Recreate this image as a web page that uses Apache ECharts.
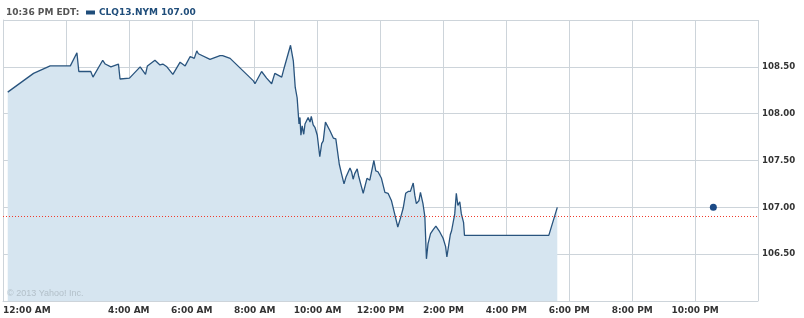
<!DOCTYPE html>
<html><head><meta charset="utf-8">
<script src="https://cdn.jsdelivr.net/npm/echarts@6/dist/echarts.min.js"></script>
<style>html,body{margin:0;padding:0;background:#fff}#c{width:804px;height:318px}</style>
</head><body><div id="c"></div>
<script>
// Time of day in decimal hours
var hours = [0.15,0.21,0.97,1.02,1.50,2.14,2.35,2.41,2.79,2.86,3.17,3.25,3.43,3.67,3.72,4.02,4.36,4.53,4.59,4.65,4.83,4.99,5.08,5.21,5.40,5.63,5.79,5.95,6.08,6.16,6.21,6.58,6.90,6.98,7.22,7.96,8.01,8.22,8.38,8.54,8.64,8.86,8.93,8.99,9.14,9.23,9.29,9.35,9.41,9.44,9.47,9.51,9.56,9.60,9.65,9.70,9.76,9.80,9.86,9.92,9.99,10.07,10.13,10.18,10.25,10.39,10.50,10.58,10.69,10.76,10.84,10.90,11.03,11.08,11.13,11.18,11.26,11.30,11.37,11.45,11.57,11.66,11.71,11.79,11.85,11.92,12.03,12.14,12.24,12.35,12.45,12.55,12.63,12.72,12.80,12.88,12.95,13.04,13.09,13.14,13.22,13.27,13.35,13.41,13.46,13.51,13.59,13.67,13.76,13.88,13.99,14.07,14.11,14.16,14.22,14.26,14.30,14.36,14.41,14.46,14.52,14.57,14.64,14.67,17.35,17.62];
var prices = [108.23,108.22,108.43,108.41,108.51,108.51,108.65,108.45,108.45,108.39,108.57,108.53,108.50,108.53,108.37,108.38,108.50,108.42,108.51,108.49,108.57,108.52,108.53,108.50,108.42,108.55,108.51,108.61,108.59,108.67,108.64,108.58,108.62,108.62,108.59,108.35,108.32,108.45,108.38,108.32,108.43,108.39,108.48,108.47,108.73,108.56,108.28,108.17,107.89,107.96,107.77,107.87,107.78,107.89,107.91,107.96,107.91,107.97,107.88,107.85,107.77,107.54,107.68,107.71,107.91,107.82,107.74,107.73,107.46,107.36,107.25,107.32,107.42,107.38,107.30,107.36,107.41,107.34,107.25,107.15,107.31,107.29,107.30,107.50,107.39,107.38,107.31,107.16,107.15,107.07,106.93,106.79,106.88,106.99,107.15,107.17,107.17,107.26,107.13,107.04,107.07,107.16,107.04,106.90,106.45,106.61,106.72,106.76,106.80,106.74,106.67,106.58,106.47,106.58,106.71,106.75,106.73,106.93,107.15,107.02,107.06,106.93,106.84,106.70,106.70,107.00];
var lastQuote = [22.58, 107.00];
var prevClose = 106.90;
var seriesName = 'CLQ13.NYM 107.00';
var headerTime = '10:36 PM EDT:';
var xTickHours = [0,2,4,6,8,10,12,14,16,18,20,22,24];
var xTickLabels = ['12:00 AM','','4:00 AM','6:00 AM','8:00 AM','10:00 AM','12:00 PM','2:00 PM','4:00 PM','6:00 PM','8:00 PM','10:00 PM',''];
var yTickLabels = ['108.50','108.00','107.50','107.00','106.50'];

var lineData = hours.map(function(h,i){return [h, prices[i]];});
var gridColor = '#cdd4da';
var FONT = 'DejaVu Sans';
var chart = echarts.init(document.getElementById('c'), null, {renderer:'canvas'});
chart.setOption({
  animation:false,
  backgroundColor:'#fff',
  textStyle:{fontFamily:FONT},
  title:{text:headerTime,left:6,top:8,padding:0,textStyle:{fontSize:9,fontWeight:'bold',color:'#555',fontFamily:FONT}},
  legend:{left:86,top:8,padding:0,icon:'rect',itemWidth:9,itemHeight:4,itemGap:4,
    data:[{name:seriesName}],
    textStyle:{fontSize:9,fontWeight:'bold',color:'#1f4d7a',fontFamily:FONT,padding:[0,0,0,-1]}},
  graphic:[{type:'text',left:7,top:289,z:100,zlevel:1,style:{text:'\u00a9 2013 Yahoo! Inc.',fill:'#b3c0c9',fontSize:9,fontFamily:'Liberation Sans'}}],
  grid:{left:3,right:46,top:20,bottom:17,containLabel:false},
  xAxis:{type:'value',min:0,max:24,interval:2,
    axisLine:{show:true,lineStyle:{color:gridColor}},
    axisTick:{show:false},
    splitLine:{show:true,lineStyle:{color:gridColor,width:1}},
    axisLabel:{show:true,margin:5,alignMinLabel:'left',fontSize:9,fontWeight:'bold',color:'#333',fontFamily:FONT,
      formatter:function(v){var i=xTickHours.indexOf(v);return i>=0?xTickLabels[i]:'';}}},
  yAxis:{type:'value',position:'right',min:106,max:109,interval:0.5,
    axisLine:{show:true,lineStyle:{color:gridColor}},
    axisTick:{show:false},
    splitLine:{show:true,lineStyle:{color:gridColor,width:1}},
    axisLabel:{margin:4,fontSize:8.6,fontWeight:'bold',color:'#333',fontFamily:FONT,
      formatter:function(v){var s=v.toFixed(2);return yTickLabels.indexOf(s)>=0?s:'';}}},
  series:[
    {name:seriesName,type:'line',data:lineData,showSymbol:false,symbol:'none',
      itemStyle:{color:'#1f4d7a'},
      lineStyle:{color:'#29547e',width:1.3},
      areaStyle:{color:'#d6e5f0',opacity:1},
      markLine:{silent:true,symbol:['none','none'],label:{show:false},
        itemStyle:{color:'#f03c2c'},
        lineStyle:{color:'#f03c2c',type:[1,2],width:1,opacity:1},
        emphasis:{disabled:true},
        data:[{yAxis:prevClose}]},
      z:3},
    {name:'last',type:'scatter',data:[lastQuote],symbolSize:7,itemStyle:{color:'#1b4a86',opacity:1},emphasis:{disabled:true},z:4}
  ]
});
</script></body></html>
